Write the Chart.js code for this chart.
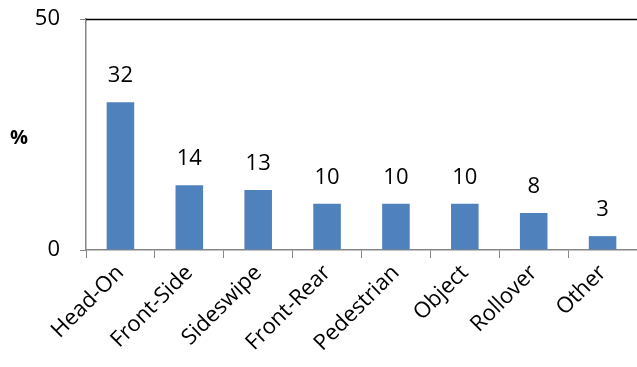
<!DOCTYPE html>
<html>
<head>
<meta charset="utf-8">
<script src="https://cdn.jsdelivr.net/npm/chart.js@4/dist/chart.umd.min.js"></script>
<style>
  html, body { margin: 0; padding: 0; background: #fff; }
  #wrap { width: 637px; height: 367px; }
</style>
</head>
<body>
<div id="wrap"><canvas id="chart"></canvas></div>
<script>
// — Data —
const categories = ['Head-On', 'Front-Side', 'Sideswipe', 'Front-Rear', 'Pedestrian', 'Object', 'Rollover', 'Other'];
const shares     = [32, 14, 13, 10, 10, 10, 8, 3];
const yTicks     = [0, 50];

const FONT = "'Open Sans', 'Noto Sans', sans-serif";
const AXIS = '#868686';

// Value labels above bars + "%" title + black top border
const extras = {
  id: 'extras',
  afterDatasetsDraw(chart) {
    const { ctx, chartArea } = chart;
    ctx.save();
    ctx.fillStyle = '#000';
    ctx.font = `22px ${FONT}`;
    ctx.textAlign = 'center';
    ctx.textBaseline = 'alphabetic';
    chart.getDatasetMeta(0).data.forEach((bar, i) => {
      ctx.fillText(String(shares[i]), bar.x, bar.y - 20);
    });

    // y title, horizontal
    ctx.font = `bold 20px ${FONT}`;
    ctx.textAlign = 'center';
    ctx.textBaseline = 'middle';
    ctx.fillText('%', 19, 138);

    // top border
    ctx.strokeStyle = '#000';
    ctx.lineWidth = 1.3;
    ctx.beginPath();
    ctx.moveTo(chartArea.left, chartArea.top + 0.5);
    ctx.lineTo(chartArea.right, chartArea.top + 0.5);
    ctx.stroke();
    ctx.restore();
  }
};

new Chart(document.getElementById('chart'), {
  type: 'bar',
  data: {
    labels: categories,
    datasets: [{
      data: shares,
      backgroundColor: '#4F81BD',
      barPercentage: 0.4,
      categoryPercentage: 1
    }]
  },
  options: {
    responsive: true,
    maintainAspectRatio: false,
    animation: false,
    layout: { padding: { top: 19, right: 0, left: 0, bottom: 0 } },
    plugins: { legend: { display: false }, tooltip: { enabled: false } },
    scales: {
      x: {
        grid: { drawOnChartArea: false, color: AXIS, tickLength: 8, offset: true },
        border: { color: AXIS, width: 1.5 },
        ticks: {
          color: '#000',
          font: { family: FONT, size: 22 },
          minRotation: 45, maxRotation: 45,
          padding: 2
        },
        afterFit: s => { s.height = 117; s.paddingLeft = 0; s.paddingRight = 0; }
      },
      y: {
        min: 0, max: 50,
        afterBuildTicks: s => { s.ticks = yTicks.map(v => ({ value: v })); },
        grid: { drawOnChartArea: false, color: AXIS, tickLength: 6 },
        border: { color: AXIS, width: 1.5 },
        ticks: {
          color: '#000',
          font: { family: FONT, size: 22 },
          padding: 20
        },
        afterFit: s => { s.width = 86; s.paddingTop = 0; s.paddingBottom = 0; }
      }
    }
  },
  plugins: [extras]
});
</script>
</body>
</html>
